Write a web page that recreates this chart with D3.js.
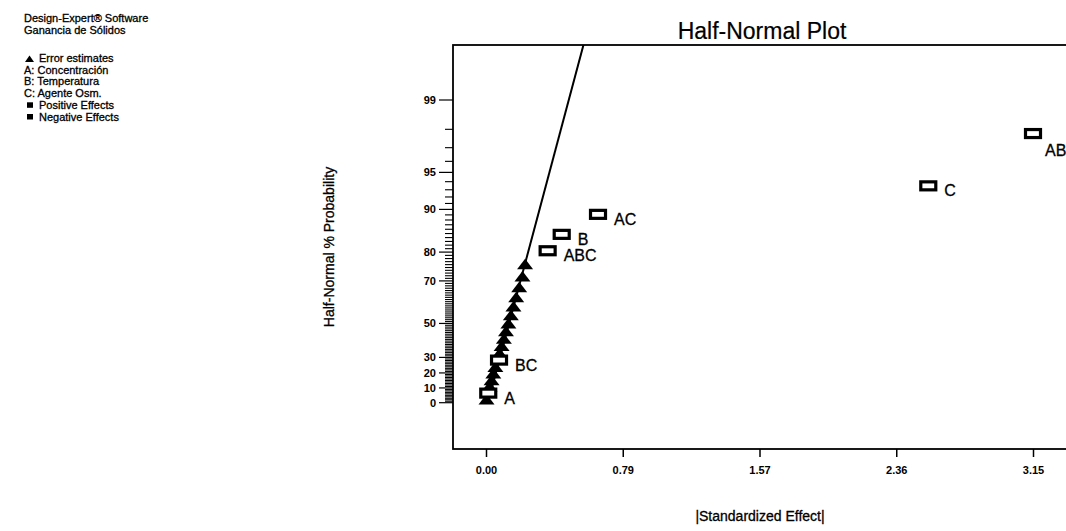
<!DOCTYPE html>
<html><head><meta charset="utf-8">
<script src="https://cdn.jsdelivr.net/npm/d3@7"></script>
<style>
body{margin:0;background:#fff}
svg{display:block}
text{font-family:"Liberation Sans",Arial,sans-serif;fill:#000;stroke:#000;stroke-width:0.3px}
</style>
</head><body>
<svg id="chart" width="1066" height="531"></svg>
<script>
// ---- data ----
const effectLabels = ["A", "BC", "ABC", "B", "AC", "C", "AB"];
const effectValues = [0.013, 0.075, 0.355, 0.436, 0.645, 2.547, 3.15];
const effectProb   = [6.5, 28.3, 80.4, 84.8, 89.1, 93.5, 97.8];

const errorValues = [0.003, 0.020, 0.032, 0.042, 0.054, 0.078, 0.090, 0.103,
                     0.115, 0.129, 0.143, 0.158, 0.174, 0.191, 0.210, 0.225];
const errorProb   = [2.2, 10.9, 15.2, 19.6, 23.9, 32.6, 37.0, 41.3,
                     45.7, 50.0, 54.3, 58.7, 63.0, 67.4, 71.7, 76.1];

const lineEffect = [0.011, 0.562];
const lineProb   = [0, 99.77];

const xTickValues = [0, 0.7875, 1.575, 2.3625, 3.15];
const xTickLabels = ["0.00", "0.79", "1.57", "2.36", "3.15"];
const yMajorTicks = [0, 10, 20, 30, 50, 70, 80, 90, 95, 99];

const legendLines = ["Design-Expert\u00AE Software", "Ganancia de S\u00F3lidos"];
const legendItems = [
  {sym: "tri", text: "Error estimates"},
  {sym: null,  text: "A: Concentraci\u00F3n"},
  {sym: null,  text: "B: Temperatura"},
  {sym: null,  text: "C: Agente Osm."},
  {sym: "sq",  text: "Positive Effects"},
  {sym: "sq",  text: "Negative Effects"}
];

// ---- half-normal probability transform ----
function normInv(p) {
  const a = [-3.969683028665376e+01, 2.209460984245205e+02, -2.759285104469687e+02,
             1.383577518672690e+02, -3.066479806614716e+01, 2.506628277459239e+00];
  const b = [-5.447609879822406e+01, 1.615858368580409e+02, -1.556989798598866e+02,
             6.680131188771972e+01, -1.328068155288572e+01];
  const c = [-7.784894002430293e-03, -3.223964580411365e-01, -2.400758277161838e+00,
             -2.549671010243282e+00, 4.374664141464968e+00, 2.938163982698783e+00];
  const d = [7.784695709041462e-03, 3.224671290700398e-01, 2.445134137142996e+00,
             3.754408661907416e+00];
  const pl = 0.02425, ph = 1 - pl;
  let q, r;
  if (p < pl) {
    q = Math.sqrt(-2 * Math.log(p));
    return (((((c[0]*q+c[1])*q+c[2])*q+c[3])*q+c[4])*q+c[5]) / ((((d[0]*q+d[1])*q+d[2])*q+d[3])*q+1);
  } else if (p <= ph) {
    q = p - 0.5; r = q * q;
    return (((((a[0]*r+a[1])*r+a[2])*r+a[3])*r+a[4])*r+a[5])*q / (((((b[0]*r+b[1])*r+b[2])*r+b[3])*r+b[4])*r+1);
  } else {
    q = Math.sqrt(-2 * Math.log(1 - p));
    return -(((((c[0]*q+c[1])*q+c[2])*q+c[3])*q+c[4])*q+c[5]) / ((((d[0]*q+d[1])*q+d[2])*q+d[3])*q+1);
  }
}
const hz = pct => pct <= 0 ? 0 : normInv(0.5 + pct / 200);

// ---- layout ----
const svg = d3.select("#chart");
const box = {left: 453, top: 45, right: 1078, bottom: 449};

const x = d3.scaleLinear().domain([0, 3.15]).range([486, 1033]);
const zScale = d3.scaleLinear().domain([0, hz(99)]).range([402.7, 100]);
const y = pct => zScale(hz(pct));

// title
svg.append("text").attr("x", 762).attr("y", 39).attr("text-anchor", "middle")
  .style("font-size", "23px").style("stroke-width", "0.2px").text("Half-Normal Plot");

// legend
const lg = svg.append("g").style("font-size", "11px");
legendLines.forEach((t, i) => {
  lg.append("text").attr("x", 24).attr("y", 22 + i * 12).text(t);
});
legendItems.forEach((it, i) => {
  const yy = 62 + i * 11.7;
  if (it.sym === "tri") {
    lg.append("path").attr("d", `M${25},${yy} L${29.5},${yy - 6.5} L${34},${yy} Z`).attr("fill", "#000");
  } else if (it.sym === "sq") {
    lg.append("rect").attr("x", 27).attr("y", yy - 6.5).attr("width", 6).attr("height", 5.5).attr("fill", "#000");
  }
  lg.append("text").attr("x", it.sym ? 39 : 24).attr("y", yy).text(it.text);
});

// clip for plot area
svg.append("clipPath").attr("id", "plotclip").append("rect")
  .attr("x", box.left).attr("y", box.top)
  .attr("width", box.right - box.left).attr("height", box.bottom - box.top);

// y axis: major ticks with labels
const yAxisG = svg.append("g").attr("transform", `translate(${box.left},0)`);
yMajorTicks.forEach(v => {
  yAxisG.append("line").attr("x1", -14).attr("x2", 0).attr("y1", y(v)).attr("y2", y(v))
    .attr("stroke", "#000").attr("stroke-width", 1.2);
  yAxisG.append("text").attr("x", -17).attr("y", y(v)).attr("dy", "0.35em")
    .attr("text-anchor", "end").style("font-size", "11px").style("font-weight", "bold")
    .style("stroke-width", "0px").text(v);
});
// minor ticks every 1%
d3.range(1, 99).filter(v => !yMajorTicks.includes(v)).forEach(v => {
  yAxisG.append("line").attr("x1", -8).attr("x2", 0).attr("y1", y(v)).attr("y2", y(v))
    .attr("stroke", "#000").attr("stroke-width", 1.1);
});

// x axis
const xAxis = d3.axisBottom(x).tickValues(xTickValues)
  .tickFormat((d, i) => xTickLabels[i]).tickSize(8).tickPadding(9);
const xg = svg.append("g").attr("transform", `translate(0,${box.bottom})`).call(xAxis);
xg.select(".domain").remove();
xg.selectAll(".tick line").attr("stroke", "#000").attr("stroke-width", 1.5);
xg.selectAll(".tick text").style("font-size", "11px").style("font-weight", "bold")
  .style("stroke-width", "0px")
  .style("font-family", "'Liberation Sans',Arial,sans-serif");

// plot frame
svg.append("rect").attr("x", box.left).attr("y", box.top)
  .attr("width", box.right - box.left).attr("height", box.bottom - box.top)
  .attr("fill", "none").attr("stroke", "#000").attr("stroke-width", 1.8);

// axis titles
svg.append("text").attr("transform", `translate(334,247) rotate(-90)`)
  .attr("text-anchor", "middle").style("font-size", "14px").text("Half-Normal % Probability");
svg.append("text").attr("x", 760).attr("y", 521).attr("text-anchor", "middle")
  .style("font-size", "14px").text("|Standardized Effect|");

const plot = svg.append("g").attr("clip-path", "url(#plotclip)");

// fit line
const lineData = lineEffect.map((e, i) => [x(e), y(lineProb[i])]);
plot.append("path").attr("d", d3.line()(lineData))
  .attr("fill", "none").attr("stroke", "#000").attr("stroke-width", 2);

// error triangles
plot.selectAll("path.tri").data(errorValues).enter().append("path")
  .attr("class", "tri")
  .attr("d", (d, i) => {
    const cx = x(d), cy = y(errorProb[i]);
    return `M${cx - 8},${cy + 5} L${cx},${cy - 5.5} L${cx + 8},${cy + 5} Z`;
  })
  .attr("fill", "#000");

// effect squares
plot.selectAll("rect.eff").data(effectValues).enter().append("rect")
  .attr("class", "eff")
  .attr("x", d => x(d) - 7.5).attr("y", (d, i) => y(effectProb[i]) - 4)
  .attr("width", 15).attr("height", 8)
  .attr("fill", "#fff").attr("stroke", "#000").attr("stroke-width", 3.2);

// effect labels
plot.selectAll("text.lab").data(effectValues).enter().append("text")
  .attr("class", "lab")
  .attr("x", d => x(d) + (d > 3 ? 12 : 16))
  .attr("y", (d, i) => y(effectProb[i]) + (d > 3 ? 22 : 10.5))
  .style("font-size", "16px")
  .text((d, i) => effectLabels[i]);
</script>
</body></html>
